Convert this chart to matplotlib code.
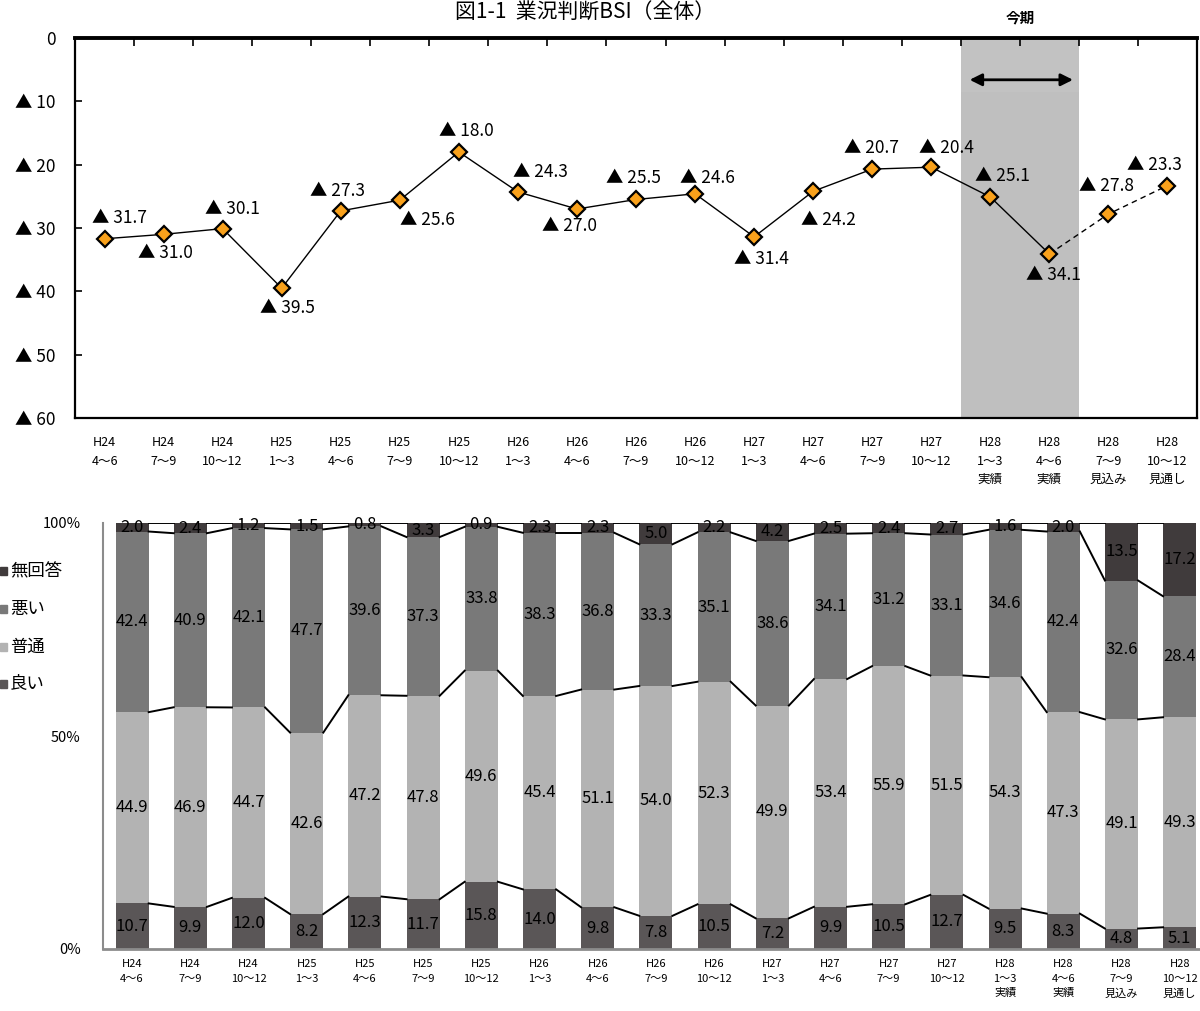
import matplotlib.pyplot as plt
from matplotlib.patches import Rectangle
import numpy as np

plt.rcParams['font.family'] = ['Noto Sans CJK JP', 'DejaVu Sans']

# quarters (year / months / note)
periods = ['H24', 'H24', 'H24', 'H25', 'H25', 'H25', 'H25', 'H26', 'H26', 'H26',
           'H26', 'H27', 'H27', 'H27', 'H27', 'H28', 'H28', 'H28', 'H28']
months = ['4～6', '7～9', '10～12', '1～3', '4～6', '7～9', '10～12', '1～3', '4～6', '7～9',
          '10～12', '1～3', '4～6', '7～9', '10～12', '1～3', '4～6', '7～9', '10～12']
notes = [''] * 15 + ['実績', '実績', '見込み', '見通し']

# business condition BSI (all values negative, shown as ▲)
bsi = [31.7, 31.0, 30.1, 39.5, 27.3, 25.6, 18.0, 24.3, 27.0, 25.5,
       24.6, 31.4, 24.2, 20.7, 20.4, 25.1, 34.1, 27.8, 23.3]

# answer shares (%)
good = [10.7, 9.9, 12.0, 8.2, 12.3, 11.7, 15.8, 14.0, 9.8, 7.8,
        10.5, 7.2, 9.9, 10.5, 12.7, 9.5, 8.3, 4.8, 5.1]
normal = [44.9, 46.9, 44.7, 42.6, 47.2, 47.8, 49.6, 45.4, 51.1, 54.0,
          52.3, 49.9, 53.4, 55.9, 51.5, 54.3, 47.3, 49.1, 49.3]
bad = [42.4, 40.9, 42.1, 47.7, 39.6, 37.3, 33.8, 38.3, 36.8, 33.3,
       35.1, 38.6, 34.1, 31.2, 33.1, 34.6, 42.4, 32.6, 28.4]
no_answer = [2.0, 2.4, 1.2, 1.5, 0.8, 3.3, 0.9, 2.3, 2.3, 5.0,
             2.2, 4.2, 2.5, 2.4, 2.7, 1.6, 2.0, 13.5, 17.2]

# label offsets around each BSI marker (pixels, +y = down)
label_offsets = [(15, -21), (2, 19), (10, -20), (6, 20), (-3, -20), (28, 20), (8, -21),
                 (23, -20), (-7, 17), (-3, -21), (12, -16), (7, 22), (15, 29), (-1, -21),
                 (15, -19), (12, -21), (4, 21), (-2, -28), (-13, -21)]

W, H = 1200, 1011
fig = plt.figure(figsize=(W / 100, H / 100), dpi=100)


def box(x0, y0, x1, y1):
    return [x0 / W, 1 - y1 / H, (x1 - x0) / W, (y1 - y0) / H]


n = len(bsi)
cat_labels = [f'{p}\n{m}' + (f'\n{t}' if t else '') for p, m, t in zip(periods, months, notes)]

# ---- top: BSI line chart ----
ax1 = fig.add_axes(box(75, 38, 1197, 418))
x = np.arange(n) + 0.5
ax1.set_xlim(0, n)
ax1.set_ylim(60, 0)

ax1.axvspan(15, 17, color='#bfbfbf', lw=0, zorder=0)
ax1.add_patch(Rectangle((15, 0), 2, 8.6, color='#c2c2c2', lw=0, zorder=0.5))
ax1.annotate('', xy=(16.9, 6.6), xytext=(15.15, 6.6),
             arrowprops=dict(arrowstyle='<|-|>', color='black', lw=2,
                             mutation_scale=18, shrinkA=0, shrinkB=0))

ax1.plot(x[:17], bsi[:17], color='black', lw=1, zorder=2)
ax1.plot(x[16:], bsi[16:], color='black', lw=1, ls=(0, (4, 3)), zorder=2)
ax1.plot(x, bsi, ls='none', marker='D', ms=8.5, mfc='#f9a11b', mec='black', mew=1.6, zorder=3)

for xi, v, (dx, dy) in zip(x, bsi, label_offsets):
    ax1.annotate(f'▲ {v:.1f}', (xi, v), xytext=(dx * 0.72, -dy * 0.72),
                 textcoords='offset points', ha='center', va='center', fontsize=12.5)

ax1.set_yticks(range(0, 61, 10))
ax1.set_yticklabels(['0'] + [f'▲ {v}' for v in range(10, 61, 10)], fontsize=12.5)
ax1.tick_params(axis='y', direction='in', length=5, width=1.2, pad=14)

ax1.set_xticks(x)
ax1.set_xticklabels(cat_labels, fontsize=9, linespacing=1.55, va='top')
ax1.set_xticks(np.arange(n + 1), minor=True)
ax1.tick_params(axis='x', which='major', length=0, pad=13)
ax1.tick_params(axis='x', which='minor', bottom=False, top=True, direction='in',
                length=6, width=1.2)
for side in ['left', 'bottom', 'right']:
    ax1.spines[side].set_linewidth(1.6)
ax1.spines['top'].set_linewidth(2.8)

fig.text(585 / W, 1 - 13 / H, '図1-1  業況判断BSI（全体）', ha='center', va='center', fontsize=15)
fig.text(1020 / W, 1 - 18 / H, '今期', ha='center', va='center', fontsize=10.5, fontweight='bold')

# ---- bottom: 100% stacked bars ----
ax2 = fig.add_axes(box(103, 523, 1200, 949))
spacing = 58.2
ax2.set_xlim(-0.5, -0.5 + (1200 - 103) / spacing)
ax2.set_ylim(0, 100)

series = [('良い', good, '#5a5657'), ('普通', normal, '#b3b3b3'),
          ('悪い', bad, '#797979'), ('無回答', no_answer, '#403b3c')]
vals = np.array([s[1] for s in series])
shares = vals / vals.sum(axis=0) * 100
idx = np.arange(n)
bw = 0.57

bottom = np.zeros(n)
levels = []
for (name, raw, color), share in zip(series, shares):
    ax2.bar(idx, share, bw, bottom=bottom, color=color, lw=0, zorder=2)
    for i in range(n):
        ax2.text(i, bottom[i] + share[i] / 2, f'{raw[i]:.1f}', ha='center', va='center',
                 fontsize=12, zorder=4)
    bottom = bottom + share
    levels.append(bottom.copy())

# series lines joining the segment edges
for lev in levels:
    for i in range(n - 1):
        ax2.plot([i + bw / 2, i + 1 - bw / 2], [lev[i], lev[i + 1]], color='black', lw=1.4, zorder=3)

ax2.set_yticks([0, 50, 100])
ax2.set_yticklabels(['0%', '50%', '100%'], fontsize=10.5)
ax2.tick_params(axis='y', length=0, pad=16)
ax2.set_xticks(idx)
ax2.set_xticklabels(cat_labels, fontsize=8, linespacing=1.6, va='top')
ax2.tick_params(axis='x', length=0, pad=7)
for side in ['top', 'right']:
    ax2.spines[side].set_visible(False)
ax2.spines['left'].set_color('#8c8c8c')
ax2.spines['left'].set_linewidth(1.5)
ax2.spines['bottom'].set_color('#8c8c8c')
ax2.spines['bottom'].set_linewidth(2)

# legend at the left edge
legend_rows = [('無回答', '#403b3c', 571), ('悪い', '#797979', 609),
               ('普通', '#b3b3b3', 647), ('良い', '#5a5657', 684)]
for name, color, y in legend_rows:
    fig.patches.append(Rectangle((0, 1 - (y + 4) / H), 7 / W, 8 / H,
                                 transform=fig.transFigure, color=color))
    fig.text(10 / W, 1 - y / H, name, ha='left', va='center', fontsize=12.5)

fig.savefig('out.png', dpi=100)
